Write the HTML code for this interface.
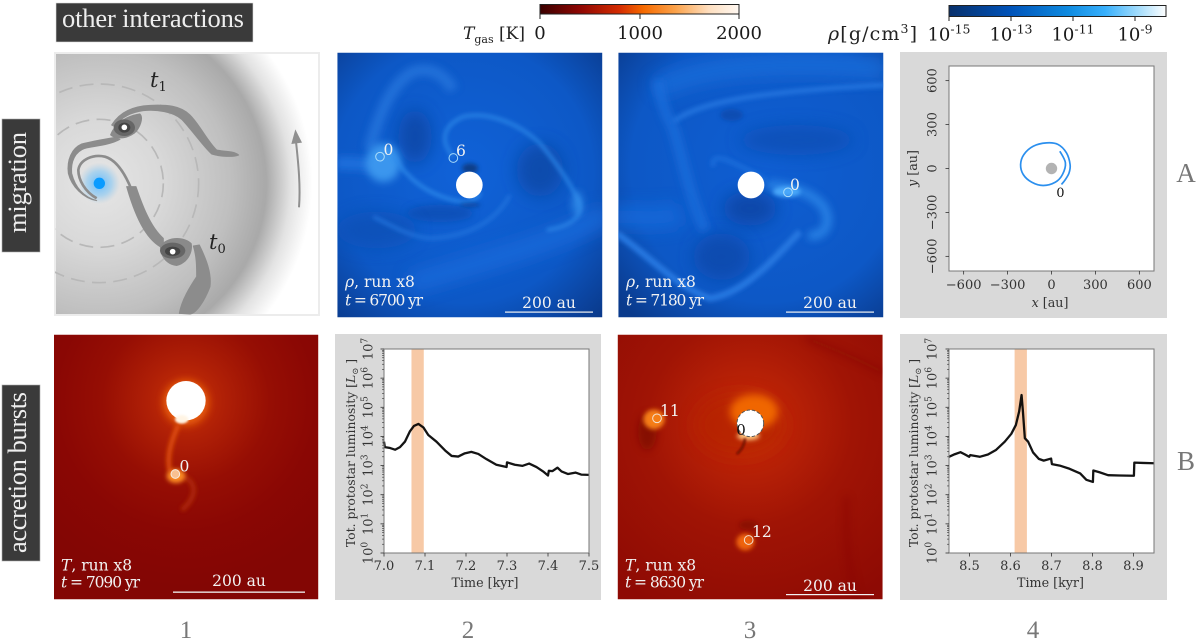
<!DOCTYPE html>
<html lang="en">
<head>
<meta charset="utf-8">
<title>Other interactions: migration and accretion bursts</title>
<style>
html,body{margin:0;padding:0;background:#fff;}
svg{display:block;}
.dv{font-family:"DejaVu Serif","Liberation Serif",serif;}
.lb{font-family:"Liberation Serif","DejaVu Serif",serif;}
.ov{fill:#f2f2f2;font-size:15.5px;}
.num{fill:#f2f2f2;font-size:15.5px;}
.cb{fill:#1a1a1a;font-size:18px;}
.hdr{fill:#eeeeee;font-size:26.5px;}
.idx{fill:#777777;font-size:25px;}
.row{fill:#777777;font-size:27px;}
</style>
</head>
<body>
<svg id="fig" xmlns="http://www.w3.org/2000/svg" width="1200" height="643" viewBox="0 0 1200 643">
<defs>
<filter id="b3" filterUnits="userSpaceOnUse" x="-200" y="-200" width="1400" height="1400"><feGaussianBlur stdDeviation="3"/></filter>
<filter id="b6" filterUnits="userSpaceOnUse" x="-200" y="-200" width="1400" height="1400"><feGaussianBlur stdDeviation="6"/></filter>
<filter id="b12" filterUnits="userSpaceOnUse" x="-200" y="-200" width="1400" height="1400"><feGaussianBlur stdDeviation="12"/></filter>
<filter id="b25" filterUnits="userSpaceOnUse" x="-200" y="-200" width="1400" height="1400"><feGaussianBlur stdDeviation="25"/></filter>
<filter id="b40" filterUnits="userSpaceOnUse" x="-200" y="-200" width="1400" height="1400"><feGaussianBlur stdDeviation="40"/></filter>
<radialGradient id="schemGrad" gradientUnits="userSpaceOnUse" cx="99" cy="183" r="220">
<stop offset="0" stop-color="#e6e6e6"/><stop offset=".3" stop-color="#d8d8d8"/><stop offset=".6" stop-color="#bfbfbf"/><stop offset=".76" stop-color="#a9a9a9"/><stop offset=".87" stop-color="#e2e2e2"/><stop offset=".97" stop-color="#ffffff"/>
</radialGradient>
<radialGradient id="blueHalo"><stop offset="0" stop-color="#55b5ff" stop-opacity=".9"/><stop offset=".6" stop-color="#7cc4f5" stop-opacity=".55"/><stop offset="1" stop-color="#9cc8e8" stop-opacity="0"/></radialGradient>
<radialGradient id="rhoA" gradientUnits="userSpaceOnUse" cx="400" cy="520" r="590">
<stop offset="0" stop-color="#1062d8"/><stop offset=".66" stop-color="#0d58c6"/><stop offset="1" stop-color="#0a3a8c"/>
</radialGradient>
<radialGradient id="rhoB" gradientUnits="userSpaceOnUse" cx="470" cy="500" r="600">
<stop offset="0" stop-color="#0f5ed2"/><stop offset=".68" stop-color="#0d58c6"/><stop offset="1" stop-color="#0a3a8c"/>
</radialGradient>
<radialGradient id="tA" gradientUnits="userSpaceOnUse" cx="558" cy="212" r="560">
<stop offset="0" stop-color="#c93408"/><stop offset=".2" stop-color="#b02006"/><stop offset=".45" stop-color="#960e04"/><stop offset=".7" stop-color="#8a0704"/><stop offset="1" stop-color="#830604"/>
</radialGradient>
<radialGradient id="tB" gradientUnits="userSpaceOnUse" cx="420" cy="280" r="620">
<stop offset="0" stop-color="#d84208"/><stop offset=".2" stop-color="#b92206"/><stop offset=".5" stop-color="#a01405"/><stop offset="1" stop-color="#8e0a04"/>
</radialGradient>
<linearGradient id="tBar"><stop offset="0" stop-color="#3a0000"/><stop offset=".2" stop-color="#8e0703"/><stop offset=".4" stop-color="#d42c02"/><stop offset=".52" stop-color="#f66a00"/><stop offset=".68" stop-color="#fba24a"/><stop offset=".85" stop-color="#fedfc0"/><stop offset="1" stop-color="#fff8f2"/></linearGradient>
<linearGradient id="rhoBar"><stop offset="0" stop-color="#08306b"/><stop offset=".28" stop-color="#0052b8"/><stop offset=".55" stop-color="#0f8be0"/><stop offset=".72" stop-color="#38b0fc"/><stop offset=".88" stop-color="#a8defc"/><stop offset="1" stop-color="#ffffff"/></linearGradient>
<clipPath id="clipSch"><rect x="55" y="53" width="264" height="262"/></clipPath>
<clipPath id="clipA2"><rect x="22" y="158" width="795" height="794"/></clipPath>
<clipPath id="clipA3"><rect x="25" y="158" width="795" height="794"/></clipPath>
<clipPath id="clipB1"><rect x="162" y="14" width="793" height="794"/></clipPath>
<clipPath id="clipB3"><rect x="23" y="14" width="795" height="794"/></clipPath>
</defs>

<!-- Header and row labels -->
<rect x="56" y="3" width="197" height="39" fill="#3a3a3a" stroke="#dddddd" stroke-width=".6"/>
<text class="lb hdr" x="62" y="27" textLength="182" lengthAdjust="spacing">other interactions</text>
<rect x="2" y="119" width="38" height="133" fill="#3a3a3a" stroke="#aaaaaa" stroke-width=".6"/>
<text class="lb hdr" transform="translate(26,233) rotate(-90)" x="0" y="0" textLength="101" lengthAdjust="spacing">migration</text>
<rect x="2" y="385" width="38" height="176" fill="#3a3a3a" stroke="#aaaaaa" stroke-width=".6"/>
<text class="lb hdr" transform="translate(26,553) rotate(-90)" x="0" y="0" textLength="161" lengthAdjust="spacing">accretion bursts</text>

<!-- Colour bars -->
<g>
<rect x="540" y="4.5" width="199" height="9.5" fill="url(#tBar)" stroke="#222" stroke-width="1"/>
<text class="dv" x="463" y="39" fill="#222" font-size="17"><tspan font-style="italic">T</tspan><tspan font-size="11" dy="4">gas</tspan><tspan dy="-4"> [K]</tspan></text>
<path d="M540,14V19M640,14V19M739,14V19" stroke="#222" stroke-width="1"/>
<text class="dv cb" x="540" y="39" text-anchor="middle">0</text>
<text class="dv cb" x="640" y="39" text-anchor="middle">1000</text>
<text class="dv cb" x="739" y="39" text-anchor="middle">2000</text>
</g>
<g>
<rect x="949" y="5.5" width="217" height="11" fill="url(#rhoBar)" stroke="#222" stroke-width="1"/>
<text class="dv" x="828" y="40" fill="#222" font-size="19" textLength="89"><tspan font-style="italic">ρ</tspan>[g/cm<tspan font-size="12.5" dy="-7">3</tspan><tspan dy="7">]</tspan></text>
<path d="M949,17V21M1011,17V21M1073,17V21M1135,17V21" stroke="#222" stroke-width="1"/>
<text class="dv cb" x="949" y="40.5" text-anchor="middle">10<tspan font-size="12.5" dy="-7">-15</tspan></text>
<text class="dv cb" x="1011" y="40.5" text-anchor="middle">10<tspan font-size="12.5" dy="-7">-13</tspan></text>
<text class="dv cb" x="1073" y="40.5" text-anchor="middle">10<tspan font-size="12.5" dy="-7">-11</tspan></text>
<text class="dv cb" x="1135" y="40.5" text-anchor="middle">10<tspan font-size="12.5" dy="-7">-9</tspan></text>
</g>

<!-- Schematic -->
<g>
<rect x="55" y="53" width="264" height="262" fill="url(#schemGrad)" stroke="#ececec" stroke-width="2"/>
<g clip-path="url(#clipSch)">
<g transform="scale(.33333)">
<circle cx="298" cy="550" r="192" fill="none" stroke="#b8b8b8" stroke-width="5" stroke-dasharray="42 22"/>
<circle cx="298" cy="550" r="298" fill="none" stroke="#b8b8b8" stroke-width="5" stroke-dasharray="42 22"/>
<circle cx="298" cy="550" r="62" fill="url(#blueHalo)"/>
<circle cx="298" cy="550" r="17" fill="#0a9bff"/>
<g stroke="#8c8c8c" stroke-width="3" stroke-linejoin="round">
<path fill="#8c8c8c" d="M335,375C360,335 400,318 450,316C500,314 540,316 570,345C600,375 620,420 650,450C670,455 700,452 716,465C700,472 660,470 635,462C610,440 580,395 545,358C520,335 470,328 430,332C390,338 360,355 345,380Z"/>
<path fill="#8c8c8c" d="M345,412C310,418 270,425 245,432C215,445 200,480 205,520C215,560 250,595 290,602C250,590 225,560 215,520C212,485 225,455 255,445C285,438 330,435 360,418Z"/>
<path fill="#8c8c8c" d="M380,560L408,560C425,610 450,680 490,715L490,745C445,725 410,665 380,560Z"/>
<path fill="#8c8c8c" d="M580,738L598,735C620,780 635,820 630,860C615,900 590,940 570,942L538,940C545,900 570,860 590,830C590,800 590,770 580,738Z"/>
</g>
<path fill="none" stroke="#8c8c8c" stroke-width="8" d="M290,595C255,575 235,540 235,510C240,478 280,462 315,470C350,480 375,520 395,570"/>
<path fill="#8a8a8a" d="M330,405C345,365 385,345 420,340C432,350 425,375 410,395C385,420 345,420 330,405Z"/>
<ellipse cx="373" cy="383" rx="32" ry="25" fill="#666666"/>
<ellipse cx="373" cy="383" rx="18" ry="15" fill="#444444"/>
<circle cx="373" cy="382" r="8.5" fill="#ffffff"/>
<path fill="#8a8a8a" d="M480,740C495,710 550,705 575,730C580,755 565,790 530,798C500,795 480,770 480,740Z"/>
<ellipse cx="518" cy="752" rx="38" ry="24" fill="#666666"/>
<ellipse cx="518" cy="754" rx="23" ry="14" fill="#444444"/>
<circle cx="518" cy="755" r="8.5" fill="#ffffff"/>
<path d="M897,622C902,560 895,490 888,425" fill="none" stroke="#8f8f8f" stroke-width="6"/>
<path d="M886,388L906,428L874,432Z" fill="#8f8f8f"/>
</g>
</g>
<text class="dv" x="150" y="87" fill="#222" font-size="21" font-style="italic">t<tspan font-size="13" dy="4" font-style="normal">1</tspan></text>
<text class="dv" x="209" y="249" fill="#222" font-size="21" font-style="italic">t<tspan font-size="13" dy="4" font-style="normal">0</tspan></text>
</g>

<!-- Density panel A2 -->
<g transform="translate(330,0) scale(.33333)">
<g clip-path="url(#clipA2)">
<rect x="22" y="158" width="795" height="794" fill="url(#rhoA)"/>
<path d="M240,850C480,780 700,720 830,640" fill="none" stroke="#1a6cdc" stroke-width="60" opacity=".8" filter="url(#b25)"/>
<ellipse cx="255" cy="410" rx="50" ry="80" fill="#0c47a6" opacity=".85" filter="url(#b25)"/>
<ellipse cx="630" cy="510" rx="70" ry="80" fill="#0b4aa8" opacity=".85" filter="url(#b25)"/>
<ellipse cx="330" cy="640" rx="100" ry="26" fill="#0b4db2" opacity=".8" filter="url(#b12)"/>
<ellipse cx="140" cy="690" rx="120" ry="55" fill="#0c4fb4" opacity=".7" filter="url(#b25)"/>
<path d="M118,450C150,330 190,245 250,215C300,200 340,220 370,270" fill="none" stroke="#2775dc" stroke-width="34" opacity=".85" filter="url(#b12)"/>
<path d="M20,490C70,490 100,490 140,500" fill="none" stroke="#1b6edb" stroke-width="40" filter="url(#b12)"/>
<ellipse cx="160" cy="488" rx="52" ry="58" fill="#3a96ee" filter="url(#b12)"/>
<path d="M190,470C230,530 290,590 400,606C430,606 445,590 452,578" fill="none" stroke="#2f8cec" stroke-width="9" filter="url(#b6)"/>
<path d="M370,470C335,430 330,380 400,350C470,335 560,365 630,430C680,490 720,550 745,600C765,650 720,680 650,690" fill="none" stroke="#2a84e6" stroke-width="10" filter="url(#b6)"/>
<path d="M540,585C500,660 420,710 300,715C240,710 190,680 130,650" fill="none" stroke="#2475de" stroke-width="9" filter="url(#b6)"/>
<ellipse cx="742" cy="610" rx="16" ry="36" fill="#3490ec" opacity=".8" filter="url(#b12)"/>
<ellipse cx="420" cy="505" rx="24" ry="15" fill="#0a3a80" opacity=".9" filter="url(#b6)"/>
<ellipse cx="420" cy="615" rx="32" ry="7" fill="#0a3f90" opacity=".7" filter="url(#b6)"/>
<circle cx="418" cy="555" r="40" fill="#ffffff"/>
<circle cx="150" cy="470" r="13" fill="none" stroke="#a9dcfa" stroke-width="3"/>
<circle cx="370" cy="474" r="13" fill="none" stroke="#a9dcfa" stroke-width="3"/>
</g>
</g>
<text class="dv num" x="383.5" y="155">0</text>
<text class="dv num" x="456" y="156">6</text>
<text class="dv ov" x="345" y="287"><tspan font-style="italic">ρ</tspan>, run x8</text>
<text class="dv ov" x="345" y="305.5" textLength="78"><tspan font-style="italic">t</tspan> = 6700 yr</text>
<text class="dv ov" x="549" y="308" text-anchor="middle">200 au</text>
<rect x="505" y="311.5" width="88" height="1.2" fill="#f2f2f2"/>

<!-- Density panel A3 -->
<g transform="translate(610,0) scale(.33333)">
<g clip-path="url(#clipA3)">
<rect x="25" y="158" width="795" height="794" fill="url(#rhoB)"/>
<path d="M140,270C250,200 500,180 830,205" fill="none" stroke="#1d70dc" stroke-width="60" opacity=".8" filter="url(#b25)"/>
<ellipse cx="560" cy="420" rx="170" ry="45" fill="#0b4db2" opacity=".75" filter="url(#b25)"/>
<ellipse cx="420" cy="625" rx="80" ry="52" fill="#0a45a4" opacity=".85" filter="url(#b25)"/>
<ellipse cx="335" cy="770" rx="85" ry="70" fill="#0a46a8" opacity=".75" filter="url(#b25)"/>
<ellipse cx="365" cy="345" rx="34" ry="18" fill="#0a47a8" opacity=".7" filter="url(#b6)"/>
<path d="M190,365C260,310 420,275 830,255" fill="none" stroke="#2677e0" stroke-width="16" opacity=".85" filter="url(#b6)"/>
<path d="M145,240C150,300 170,350 190,385C220,480 240,600 285,690" fill="none" stroke="#1d6edc" stroke-width="30" opacity=".85" filter="url(#b12)"/>
<path d="M10,650C80,650 160,660 210,640" fill="none" stroke="#176adb" stroke-width="70" opacity=".8" filter="url(#b25)"/>
<path d="M20,700C120,770 200,860 300,895C400,880 480,790 570,695" fill="none" stroke="#2677e0" stroke-width="20" filter="url(#b6)"/>
<path d="M310,500C300,450 360,480 470,540" fill="none" stroke="#1c70dd" stroke-width="14" opacity=".8" filter="url(#b6)"/>
<path d="M470,555C520,555 600,570 640,620C670,670 640,715 595,705" fill="none" stroke="#2a84e6" stroke-width="28" opacity=".9" filter="url(#b12)"/>
<ellipse cx="530" cy="575" rx="42" ry="16" fill="#4aa8fa" filter="url(#b6)"/>
<circle cx="423" cy="555" r="40" fill="#ffffff"/>
<circle cx="534" cy="577" r="13" fill="none" stroke="#a9dcfa" stroke-width="3"/>
</g>
</g>
<text class="dv num" x="790" y="190">0</text>
<text class="dv ov" x="626" y="287"><tspan font-style="italic">ρ</tspan>, run x8</text>
<text class="dv ov" x="626" y="305.5" textLength="78"><tspan font-style="italic">t</tspan> = 7180 yr</text>
<text class="dv ov" x="830" y="308" text-anchor="middle">200 au</text>
<rect x="786" y="311.5" width="88" height="1.2" fill="#f2f2f2"/>

<!-- Temperature panel B1 -->
<g transform="translate(0,330) scale(.33333)">
<g clip-path="url(#clipB1)">
<rect x="162" y="14" width="793" height="794" fill="url(#tA)"/>
<circle cx="558" cy="218" r="68" fill="#f46a10" opacity=".8" filter="url(#b12)"/>
<path d="M535,285C515,330 498,380 510,425" fill="none" stroke="#e65410" stroke-width="12" filter="url(#b6)"/>
<path d="M545,440C590,450 595,500 545,540" fill="none" stroke="#b8300a" stroke-width="13" opacity=".8" filter="url(#b6)"/>
<ellipse cx="528" cy="438" rx="28" ry="21" fill="#fb8a20" filter="url(#b6)"/>
<circle cx="558" cy="212" r="59" fill="#ffffff"/>
<ellipse cx="545" cy="268" rx="20" ry="13" fill="#fff4e4" filter="url(#b3)"/>
<circle cx="526" cy="432" r="13" fill="#f8c090" stroke="#f5ece0" stroke-width="3"/>
</g>
</g>
<text class="dv num" x="179.5" y="471.5">0</text>
<text class="dv ov" x="61" y="570.5"><tspan font-style="italic">T</tspan>, run x8</text>
<text class="dv ov" x="61" y="587.5" textLength="79"><tspan font-style="italic">t</tspan> = 7090 yr</text>
<text class="dv ov" x="239" y="586" text-anchor="middle">200 au</text>
<rect x="173" y="591.5" width="132" height="1.3" fill="#f2f2f2"/>

<!-- Temperature panel B3 -->
<g transform="translate(610,330) scale(.33333)">
<g clip-path="url(#clipB3)">
<rect x="23" y="14" width="795" height="794" fill="url(#tB)"/>
<path d="M590,25C680,60 750,90 825,130" fill="none" stroke="#860804" stroke-width="16" opacity=".55" filter="url(#b12)"/>
<path d="M710,500C705,600 710,700 745,815" fill="none" stroke="#860804" stroke-width="14" opacity=".55" filter="url(#b12)"/>
<ellipse cx="390" cy="285" rx="135" ry="95" fill="#b52405" opacity=".8" filter="url(#b25)"/>
<ellipse cx="432" cy="245" rx="72" ry="52" fill="#f06604" filter="url(#b12)"/>
<ellipse cx="112" cy="305" rx="28" ry="55" fill="#7d0804" opacity=".75" filter="url(#b12)"/>
<ellipse cx="132" cy="268" rx="32" ry="30" fill="#f57d14" filter="url(#b6)"/>
<ellipse cx="415" cy="585" rx="28" ry="14" fill="#7d0804" opacity=".6" filter="url(#b6)"/>
<ellipse cx="406" cy="636" rx="27" ry="25" fill="#ee640f" filter="url(#b6)"/>
<ellipse cx="415" cy="318" rx="34" ry="12" fill="#ffc880" filter="url(#b6)"/>
<path d="M405,325C403,345 395,360 380,372" fill="none" stroke="#6f0a04" stroke-width="7" filter="url(#b3)"/>
<circle cx="421" cy="280" r="40" fill="#ffffff" stroke="#555555" stroke-width="3" stroke-dasharray="10 6"/>
<circle cx="141" cy="265" r="13" fill="none" stroke="#f3e2d4" stroke-width="3"/>
<circle cx="416" cy="630" r="13" fill="none" stroke="#f3e2d4" stroke-width="3"/>
</g>
</g>
<text class="dv num" x="660" y="416">11</text>
<text class="dv num" x="752" y="537">12</text>
<text class="dv" x="741" y="435" fill="#111" font-size="15" text-anchor="middle">0</text>
<text class="dv ov" x="625" y="570.5"><tspan font-style="italic">T</tspan>, run x8</text>
<text class="dv ov" x="625" y="587.5" textLength="79"><tspan font-style="italic">t</tspan> = 8630 yr</text>
<text class="dv ov" x="830" y="591" text-anchor="middle">200 au</text>
<rect x="786" y="594" width="88" height="1.2" fill="#f2f2f2"/>

<!-- Chart backgrounds -->
<rect x="900" y="52" width="267" height="266" fill="#d9d9d9"/>
<rect x="335" y="334" width="266" height="266" fill="#d9d9d9"/>
<rect x="900" y="334" width="267" height="266" fill="#d9d9d9"/>

<g id="orbitChart"></g>
<g id="lumChart2"></g>
<g id="lumChart4"></g>

<!-- Row and column indices -->
<text class="lb row" x="1186" y="182" text-anchor="middle">A</text>
<text class="lb row" x="1186" y="470" text-anchor="middle">B</text>
<text class="lb idx" x="186" y="638" text-anchor="middle">1</text>
<text class="lb idx" x="468" y="638" text-anchor="middle">2</text>
<text class="lb idx" x="750" y="638" text-anchor="middle">3</text>
<text class="lb idx" x="1033" y="638" text-anchor="middle">4</text>
</svg>

<script>
// Orbit chart data (au)
const orbitX = [68, 95, 120, 127, 102, 45, -34, -125, -189, -211, -193, -136, -57, 27, 75, 95, 57];
const orbitY = [-109, -75, -30, 27, 107, 164, 175, 152, 95, 27, -41, -93, -116, -93, -41, 39, 118];
const orbitTicks = [-600, -300, 0, 300, 600];
const orbitLabel = "0";

// Luminosity chart, column 2
const time2 = [7.0, 7.002, 7.015, 7.027, 7.039, 7.051, 7.063, 7.073, 7.084, 7.096, 7.108, 7.128, 7.149, 7.165, 7.181, 7.197, 7.213, 7.23, 7.25, 7.274, 7.299, 7.3, 7.319, 7.338, 7.354, 7.372, 7.388, 7.4, 7.402, 7.411, 7.423, 7.433, 7.449, 7.467, 7.481, 7.5];
const lum2 = [6600, 4300, 4000, 3500, 4300, 6600, 14800, 22900, 26900, 20400, 11200, 6600, 3300, 2140, 2040, 2630, 2950, 2510, 1660, 1070, 890, 1290, 1070, 980, 1170, 890, 630, 457, 660, 645, 850, 630, 513, 575, 490, 479];
const xTicks2 = ["7.0", "7.1", "7.2", "7.3", "7.4", "7.5"];
const band2 = [7.067, 7.097];

// Luminosity chart, column 4
const time4 = [8.45, 8.464, 8.478, 8.488, 8.499, 8.502, 8.525, 8.545, 8.565, 8.586, 8.602, 8.613, 8.621, 8.627, 8.63, 8.635, 8.643, 8.655, 8.669, 8.681, 8.699, 8.701, 8.72, 8.744, 8.77, 8.785, 8.801, 8.802, 8.817, 8.838, 8.866, 8.901, 8.902, 8.923, 8.95];
const lum4 = [2000, 2450, 2880, 2450, 2000, 2290, 2000, 2400, 3470, 6600, 12300, 24500, 70800, 263000, 81000, 8700, 6600, 2820, 1700, 1480, 1740, 1120, 1000, 776, 537, 324, 275, 676, 589, 468, 457, 447, 1260, 1230, 1200];
const xTicks4 = ["8.5", "8.6", "8.7", "8.8", "8.9"];
const band4 = [8.61, 8.64];

const lumDecades = [0, 1, 2, 3, 4, 5, 6, 7];
const lumMinorFactors = [2, 3, 4, 5, 6, 7, 8, 9];

const SVGNS = "http://www.w3.org/2000/svg";
function mk(parent, tag, attrs, text) {
  const el = document.createElementNS(SVGNS, tag);
  for (const k in attrs) el.setAttribute(k, attrs[k]);
  if (text !== undefined) el.textContent = text;
  parent.appendChild(el);
  return el;
}
function linearScale(d0, d1, r0, r1) {
  return function (v) { return r0 + (v - d0) / (d1 - d0) * (r1 - r0); };
}
function logScale(d0, d1, r0, r1) {
  return function (v) { return r0 + (Math.log10(v) - d0) / (d1 - d0) * (r1 - r0); };
}
function smoothPath(px, py) {
  let d = "M" + px[0].toFixed(2) + "," + py[0].toFixed(2);
  for (let i = 0; i < px.length - 1; i++) {
    const i0 = Math.max(i - 1, 0), i3 = Math.min(i + 2, px.length - 1);
    const c1x = px[i] + (px[i + 1] - px[i0]) / 6, c1y = py[i] + (py[i + 1] - py[i0]) / 6;
    const c2x = px[i + 1] - (px[i3] - px[i]) / 6, c2y = py[i + 1] - (py[i3] - py[i]) / 6;
    d += "C" + c1x.toFixed(2) + "," + c1y.toFixed(2) + " " + c2x.toFixed(2) + "," + c2y.toFixed(2) + " " + px[i + 1].toFixed(2) + "," + py[i + 1].toFixed(2);
  }
  return d;
}
const FONT = '"DejaVu Serif","Liberation Serif",serif';

function drawOrbit() {
  const g = document.getElementById("orbitChart");
  const L = 949, R = 1154, T = 66, B = 271;
  const sx = linearScale(-700, 700, L, R);
  const sy = linearScale(-700, 700, B, T);
  const plot = mk(g, "rect", { x: L, y: T, width: R - L, height: B - T, fill: "#ffffff", stroke: "#777777", "stroke-width": 1 });
  
  
  orbitTicks.forEach(function (t) {
    const label = String(t).replace("-", "\u2212");
    const tx = mk(g, "line", { x1: sx(t), x2: sx(t), y1: B, y2: B + 3.5, stroke: "#333", "stroke-width": 0.8 });
    
    
    const lx = mk(g, "text", { x: sx(t), y: 289, "text-anchor": "middle", "font-family": FONT, "font-size": 13, fill: "#333" }, label);
    
    
    const ty = mk(g, "line", { x1: L - 3.5, x2: L, y1: sy(t), y2: sy(t), stroke: "#333", "stroke-width": 0.8 });
    
    
    const ly = mk(g, "text", { transform: "translate(936.5," + sy(t) + ") rotate(-90)", "text-anchor": "middle", "font-family": FONT, "font-size": 13, fill: "#333" }, label);
    
    
  });
  const star = mk(g, "circle", { cx: sx(0), cy: sy(0), r: 5.7, fill: "#b3b3b3" });
  
  
  const path = mk(g, "path", { d: smoothPath(orbitX.map(sx), orbitY.map(sy)), fill: "none", stroke: "#2b8fee", "stroke-width": 1.7 });
  
  
  const ol = mk(g, "text", { x: sx(orbitX[0]) - 1, y: sy(orbitY[0]) + 12.5, "text-anchor": "middle", "font-family": FONT, "font-size": 12.7, fill: "#111" }, orbitLabel);
  
  
  const xl = mk(g, "text", { x: 1050, y: 307, "text-anchor": "middle", "font-family": FONT, "font-size": 12.7, fill: "#333" });
  
  
  mk(xl, "tspan", { "font-style": "italic" }, "x");
  mk(xl, "tspan", {}, " [au]");
  const yl = mk(g, "text", { transform: "translate(917,168.5) rotate(-90)", "text-anchor": "middle", "font-family": FONT, "font-size": 12.7, fill: "#333" });
  
  
  mk(yl, "tspan", { "font-style": "italic" }, "y");
  mk(yl, "tspan", {}, " [au]");
}

function drawLum(id, time, lum, xTicks, band, t0, t1, L, R, tickBase, titleBase) {
  const g = document.getElementById(id);
  const T = 349, B = 553;
  const sx = linearScale(t0, t1, L, R);
  const sy = logScale(0, 7, B, T);
  const plot = mk(g, "rect", { x: L, y: T, width: R - L, height: B - T, fill: "#ffffff" });
  
  
  const bandEl = mk(g, "rect", { x: sx(band[0]), y: T, width: sx(band[1]) - sx(band[0]), height: B - T, fill: "#f7c9a6" });
  
  
  const line = mk(g, "polyline", { points: time.map(function (t, i) { return sx(t).toFixed(2) + "," + sy(lum[i]).toFixed(2); }).join(" "), fill: "none", stroke: "#000", "stroke-opacity": 0.92, "stroke-width": 2.3, "stroke-linejoin": "round" });
  
  
  const frame = mk(g, "rect", { x: L, y: T, width: R - L, height: B - T, fill: "none", stroke: "#777777", "stroke-width": 1 });
  
  
  xTicks.forEach(function (lab) {
    const v = parseFloat(lab);
    const tk = mk(g, "line", { x1: sx(v), x2: sx(v), y1: B, y2: B + 3.5, stroke: "#333", "stroke-width": 0.8 });
    
    
    const tl = mk(g, "text", { x: sx(v), y: 570, "text-anchor": "middle", "font-family": FONT, "font-size": 13, fill: "#333" }, lab);
    
    
  });
  lumDecades.forEach(function (d) {
    const y = sy(Math.pow(10, d));
    const tk = mk(g, "line", { x1: L - 3.5, x2: L, y1: y, y2: y, stroke: "#333", "stroke-width": 0.8 });
    
    
    const tl = mk(g, "text", { transform: "translate(" + tickBase + "," + y + ") rotate(-90)", "text-anchor": "middle", "font-family": FONT, "font-size": 13, fill: "#333" });
    
    
    mk(tl, "tspan", {}, "10");
    mk(tl, "tspan", { "font-size": 9, dy: -5 }, String(d));
    if (d < 7) {
      lumMinorFactors.forEach(function (f) {
        const ym = sy(f * Math.pow(10, d));
        const mt = mk(g, "line", { x1: L - 2, x2: L, y1: ym, y2: ym, stroke: "#333", "stroke-width": 0.6 });
        
        
      });
    }
  });
  const xt = mk(g, "text", { x: (L + R) / 2 + (id === "lumChart2" ? -1.5 : -1), y: 587, "text-anchor": "middle", "font-family": FONT, "font-size": 12.7, fill: "#333" }, "Time [kyr]");
  
  
  const yt = mk(g, "text", { transform: "translate(" + titleBase + ",453) rotate(-90)", "text-anchor": "middle", "font-family": FONT, "font-size": 12.4, fill: "#333" });
  
  
  mk(yt, "tspan", {}, "Tot. protostar luminosity [");
  mk(yt, "tspan", { "font-style": "italic" }, "L");
  mk(yt, "tspan", { "font-size": 8.5, dy: 3 }, "\u2299");
  mk(yt, "tspan", { dy: -3 }, " ]");
}

drawOrbit();
drawLum("lumChart2", time2, lum2, xTicks2, band2, 7.0, 7.5, 384, 589, 372.5, 355);
drawLum("lumChart4", time4, lum4, xTicks4, band4, 8.45, 8.95, 949, 1154, 936.5, 918);
</script>
</body>
</html>
